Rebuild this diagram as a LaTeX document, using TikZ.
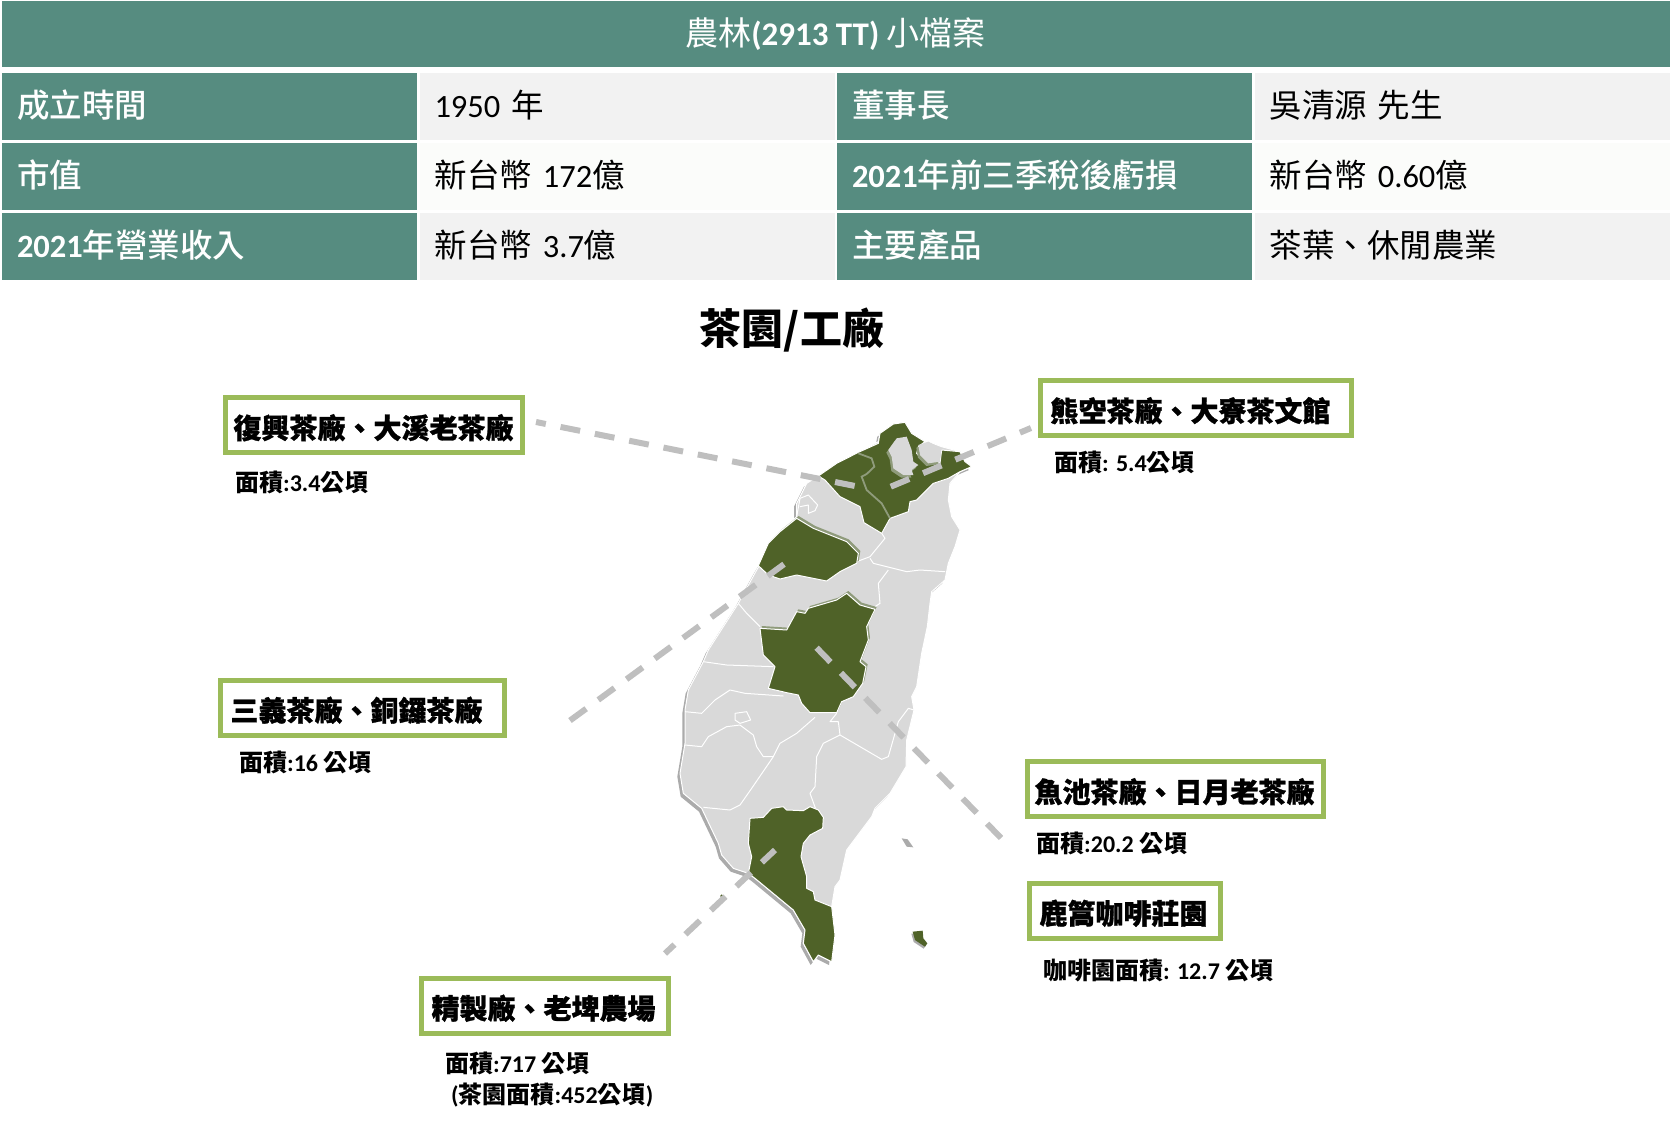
\documentclass[tikz,border=0pt]{standalone}
\usepackage{fontspec}
\setmainfont{Noto Sans CJK TC}
\newfontfamily\latinfont{Carlito}
\newfontfamily\heavyfont[FakeBold=1]{Noto Sans CJK TC Black}
\newfontfamily\mediumfont{Noto Sans CJK TC Medium}
\newcommand{\latin}[1]{{\latinfont #1}}
\definecolor{headteal}{HTML}{568C80}
\definecolor{cellgray}{HTML}{F2F2F2}
\definecolor{cellwhite}{HTML}{FBFCFA}
\definecolor{boxgreen}{HTML}{9BBB59}
\definecolor{mapgray}{HTML}{D9D9D9}
\definecolor{mapshadow}{HTML}{ABABAB}
\definecolor{mapolive}{HTML}{4F6228}
\definecolor{mapband}{HTML}{8F9B7B}
\definecolor{leadgray}{HTML}{BFBFBF}
\newcommand{\mainland}{(540,225) -- (590,190) -- (660,155) -- (715,125) -- (720,100) -- (760,72) -- (795,67) -- (815,100) -- (855,125) -- (835,140) -- (865,125) -- (905,140) -- (960,155) -- (975,185) -- (995,200) -- (960,215) -- (930,250) -- (925,300) -- (935,350) -- (960,390) -- (945,440) -- (925,490) -- (915,540) -- (875,575) -- (870,610) -- (862,680) -- (845,760) -- (830,860) -- (815,890) -- (822,930) -- (800,1020) -- (798,1100) -- (750,1180) -- (705,1225) -- (695,1250) -- (620,1350) -- (600,1440) -- (585,1460) -- (575,1520) -- (585,1605) -- (575,1685) -- (535,1665) -- (520,1685) -- (490,1630) -- (495,1590) -- (460,1530) -- (345,1435) -- (325,1420) -- (280,1405) -- (245,1365) -- (235,1330) -- (185,1225) -- (130,1180) -- (120,1120) -- (135,1030) -- (135,930) -- (145,870) -- (190,785) -- (205,750) -- (295,610) -- (350,510) -- (420,395) -- (470,350) -- (470,310) -- (500,250) -- cycle}
\newcommand{\northgreen}{(535,228) -- (590,190) -- (655,157) -- (715,130) -- (720,100) -- (760,72) -- (795,67) -- (815,100) -- (855,125) -- (835,140) -- (830,160) -- (850,185) -- (900,190) -- (905,150) -- (960,155) -- (975,185) -- (995,200) -- (960,215) -- (925,235) -- (880,250) -- (830,300) -- (810,305) -- (805,335) -- (750,355) -- (725,400) -- (672,368) -- (660,320) -- (600,290) -- (555,240) -- cycle}
\newcommand{\taipeihole}{(745,150) -- (770,115) -- (800,110) -- (815,150) -- (820,185) -- (835,195) -- (815,210) -- (820,225) -- (790,225) -- (760,205) -- (755,170) -- cycle}
\newcommand{\keelunghole}{(835,135) -- (865,125) -- (905,145) -- (900,185) -- (865,190) -- (840,165) -- cycle}
\newcommand{\miaoligreen}{(470,355) -- (520,385) -- (620,425) -- (655,460) -- (650,490) -- (600,515) -- (560,543) -- (520,535) -- (470,525) -- (420,537) -- (385,525) -- (355,497) -- (385,430) -- (420,395) -- cycle}
\newcommand{\nantougreen}{(620,580) -- (660,615) -- (705,628) -- (680,680) -- (685,720) -- (660,785) -- (678,800) -- (668,850) -- (640,890) -- (605,905) -- (590,938) -- (510,938) -- (485,910) -- (475,885) -- (440,878) -- (385,865) -- (405,800) -- (370,765) -- (360,685) -- (440,690) -- (470,635) -- (495,640) -- (505,625) -- (590,600) -- cycle}
\newcommand{\southgreen}{(330,1255) -- (370,1252) -- (395,1225) -- (430,1220) -- (440,1230) -- (490,1232) -- (510,1220) -- (535,1230) -- (550,1252) -- (548,1285) -- (510,1305) -- (490,1330) -- (483,1370) -- (500,1430) -- (500,1465) -- (520,1475) -- (525,1500) -- (575,1520) -- (585,1605) -- (575,1685) -- (535,1665) -- (520,1685) -- (490,1630) -- (495,1590) -- (460,1530) -- (345,1435) -- (325,1420) -- (335,1370) -- (325,1330) -- cycle}
\newcommand{\orchid}{(818,1595) -- (848,1592) -- (850,1615) -- (862,1630) -- (855,1640) -- (825,1620) -- cycle}
\begin{document}
\begin{tikzpicture}[
    x=1pt,y=-1pt,
    tabletext/.style={text height=27pt,text depth=5pt,inner ysep=0pt,inner xsep=15pt,minimum height=67pt,text width=385pt,align=left,font=\fontsize{32.5pt}{36pt}\selectfont},
    cellhead/.style={tabletext,fill=headteal,text=white,font=\fontsize{32.5pt}{36pt}\selectfont\mediumfont},
    cellbody/.style={tabletext,fill=#1,text=black},
    cellbody/.default=cellgray,
    sitebox/.style={draw=boxgreen,line width=5pt,fill=white,minimum height=55pt,inner xsep=10pt,inner ysep=0pt,text height=30pt,text depth=3pt,minimum width=#1,text width=#1-20pt,align=left,font=\fontsize{28pt}{32pt}\selectfont\heavyfont},
    arealabel/.style={anchor=west,inner sep=0pt,align=left,font=\fontsize{24pt}{32pt}\selectfont\bfseries},
    leader/.style={draw=leadgray,line width=6pt,dash pattern=on 20pt off 15pt},
    regionline/.style={draw=white,line width=1pt,line join=round}
    ]
    \useasboundingbox (0,0) rectangle (1671,1125);

    \node [fill=headteal,text=white,minimum width=1668pt,minimum height=66pt,inner sep=0pt,font=\fontsize{33pt}{36pt}\selectfont] (title) at (835.5,34) {\raisebox{-1.5pt}{農林\textbf{\latin{(2913 TT)}} 小檔案}};

    \node [cellhead] (a1) at (209.5,106) {成立時間};
    \node [cellbody,right of = a1,node distance=417.5pt] (b1) {\latin{1950} 年};
    \node [cellhead,right of = b1,node distance=417.5pt] (c1) {董事長};
    \node [cellbody,right of = c1,node distance=417.5pt] (d1) {吳清源 先生};
    \node [cellhead,below of = a1,node distance=70pt] (a2) {市值};
    \node [cellbody=cellwhite,right of = a2,node distance=417.5pt] (b2) {新台幣 \latin{172}億};
    \node [cellhead,right of = b2,node distance=417.5pt] (c2) {\textbf{\latin{2021}}年前三季稅後虧損};
    \node [cellbody=cellwhite,right of = c2,node distance=417.5pt] (d2) {新台幣 \latin{0.60}億};
    \node [cellhead,below of = a2,node distance=70pt] (a3) {\textbf{\latin{2021}}年營業收入};
    \node [cellbody,right of = a3,node distance=417.5pt] (b3) {新台幣 \latin{3.7}億};
    \node [cellhead,right of = b3,node distance=417.5pt] (c3) {主要產品};
    \node [cellbody,right of = c3,node distance=417.5pt] (d3) {茶葉、休閒農業};

    \node [font=\fontsize{42pt}{46pt}\selectfont\bfseries,inner sep=0pt] (maptitle) at (792,330) {茶園/工廠};

    \begin{scope}[shift={(640,400)},x=0.33333pt,y=-0.33333pt]
        \fill[mapshadow,shift={(-8,10)}] \mainland;
        \fill[mapshadow,shift={(-4,6)}] \orchid;
        \fill[mapshadow] (785,1315) -- (803,1318) -- (820,1342) -- (800,1340) -- cycle;
        \filldraw[fill=mapgray,regionline] \mainland;

        \draw[regionline] (470,350) -- (480,295) -- (505,285) -- (533,315) -- (525,332) -- (505,340) -- (505,315) -- (480,320);
        \draw[regionline] (725,400) -- (735,415) -- (690,470) -- (650,485);
        \draw[regionline] (690,475) -- (700,490) -- (800,515) -- (840,510) -- (915,515);
        \draw[regionline] (745,510) -- (715,550) -- (720,610) -- (705,620);
        \draw[regionline] (295,610) -- (320,640) -- (360,680);
        \draw[regionline] (190,785) -- (260,795) -- (400,800);
        \draw[regionline] (135,935) -- (185,940) -- (225,900) -- (270,870) -- (315,880) -- (430,888);
        \draw[regionline] (135,1035) -- (185,1040) -- (205,1010) -- (260,980) -- (300,975) -- (340,1005) -- (350,1040) -- (370,1070) -- (400,1070) -- (420,1030) -- (470,1000) -- (525,952);
        \draw[regionline] (400,1070) -- (335,1165) -- (300,1215) -- (270,1230) -- (190,1222);
        \draw[regionline] (285,940) -- (320,935) -- (332,960) -- (300,970) -- (285,960) -- cycle;
        \draw[regionline] (600,1005) -- (550,1030) -- (530,1070) -- (525,1160) -- (510,1180) -- (530,1235);
        \draw[regionline] (590,940) -- (570,965) -- (595,965) -- (600,1005) -- (660,1040) -- (725,1078) -- (745,1070) -- (775,965) -- (805,925) -- (822,930);

        \filldraw[fill=mapolive,regionline] \northgreen;
        \fill[mapband,shift={(-6,8)}] \taipeihole;
        \fill[mapband,shift={(-6,8)}] \keelunghole;
        \fill[mapgray] \taipeihole;
        \fill[mapgray] \keelunghole;
        \draw[mapband,line width=1.8pt] (655,160) -- (695,175) -- (703,200) -- (680,222) -- (665,230) -- (680,270) -- (725,310) -- (750,355);

        \fill[mapband,shift={(6,-7)}] \miaoligreen;
        \filldraw[fill=mapolive,regionline] \miaoligreen;
        \fill[mapband,shift={(5,-7)}] \nantougreen;
        \filldraw[fill=mapolive,regionline] \nantougreen;
        \filldraw[fill=mapolive,regionline] \southgreen;
        \fill[mapolive] \orchid;
        \fill[mapolive] (245,1488) circle (5);
    \end{scope}

    \node [sitebox=297pt] (boxA) at (374,425) {\hspace*{-2pt}復興茶廠、大溪老茶廠};
    \node [sitebox=311pt] (boxB) at (1196,408) {熊空茶廠、大寮茶文館};
    \node [sitebox=284pt] (boxC) at (362.5,707.5) {三義茶廠、銅鑼茶廠};
    \node [sitebox=296pt] (boxD) at (1175.5,789) {\hspace*{-3pt}魚池茶廠、日月老茶廠};
    \node [sitebox=191pt] (boxE) at (1125,910.5) {鹿篙咖啡莊園};
    \node [sitebox=247pt] (boxF) at (545,1005.5) {精製廠、老埤農場};

    \node [arealabel] (areaA) at (235,482) {面積\latin{:3.4}公頃};
    \node [arealabel] (areaB) at (1054,462) {面積\latin{: 5.4}公頃};
    \node [arealabel] (areaC) at (239,762) {面積\latin{:16} 公頃};
    \node [arealabel] (areaD) at (1036,843) {面積\latin{:20.2} 公頃};
    \node [arealabel] (areaE) at (1043,970) {咖啡園面積\latin{: 12.7} 公頃};
    \node [arealabel] (areaF) at (445,1063) {面積\latin{:717} 公頃};
    \node [arealabel] (teaF) at (451,1095) {\latin{(}茶園面積\latin{:452}公頃\latin{)}};

    \coordinate (endA) at (860,487);
    \coordinate (endB) at (890,487);
    \coordinate (endC) at (787,562);
    \coordinate (endD) at (812,643);
    \coordinate (endF) at (775,850);

    \draw[leader,dash phase=10pt] ([xshift=11pt,yshift=3pt]boxA.east) -- (endA);
    \draw[leader,dash phase=8pt] ([xshift=-7pt,yshift=-20pt]boxB.west) -- (endB);
    \draw[leader] ([xshift=63pt,yshift=-13pt]boxC.east) -- (endC);
    \draw[leader] ([xshift=-24pt,yshift=-49pt]boxD.west) -- (endD);
    \draw[leader,dash phase=7pt] ([xshift=-6pt,yshift=22pt]boxF.north east) -- (endF);
\end{tikzpicture}
\end{document}
